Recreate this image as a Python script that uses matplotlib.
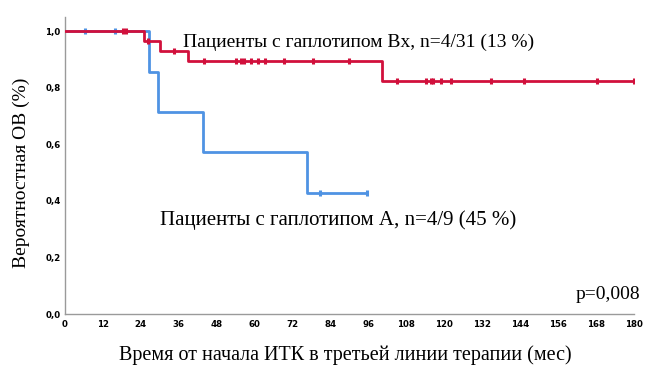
import matplotlib
matplotlib.use("Agg")
import matplotlib.pyplot as plt

# Blue group (haplotype A): step times and survival
a_times = [0, 26.5, 29.5, 43.8, 76.6, 95.5]
a_surv = [1.0, 0.857, 0.714, 0.571, 0.428, 0.428]
a_cens_t = [6.3, 15.8, 80.6, 95.5]
a_cens_s = [1.0, 1.0, 0.428, 0.428]

# Red group (haplotype Bx)
b_times = [0, 25.1, 30.1, 39.0, 100.4, 180.0]
b_surv = [1.0, 0.965, 0.930, 0.895, 0.822, 0.822]
b_cens_t = [18.4, 19.3, 26.4, 34.6, 43.9, 54.3, 55.8, 56.8, 59.0, 61.1, 63.3, 69.3, 78.6, 89.9,
            105.2, 114.1, 115.7, 116.3, 119.1, 122.0, 134.7, 145.1, 168.3, 180.0]
b_cens_s = [1.0, 1.0, 0.965, 0.930] + [0.895] * 10 + [0.822] * 10

xticks = list(range(0, 181, 12))
yticks = [0.0, 0.2, 0.4, 0.6, 0.8, 1.0]
ytick_labels = ["0,0", "0,2", "0,4", "0,6", "0,8", "1,0"]

red = "#d1103c"
blue = "#4f93e3"

fig = plt.figure(figsize=(6.47, 3.67), dpi=100)
ax = fig.add_axes([0.1, 0.1444, 0.88, 0.8093])

ax.step(a_times, a_surv, where="post", color=blue, lw=2.0, zorder=2)
ax.plot(a_cens_t, a_cens_s, ls="none", marker="|", ms=5, mew=2.2, color=blue, zorder=3)
ax.step(b_times, b_surv, where="post", color=red, lw=2.0, zorder=4)
ax.plot(b_cens_t, b_cens_s, ls="none", marker="|", ms=5, mew=2.2, color=red, zorder=5)

ax.set_xlim(0, 180)
ax.set_ylim(0, 1.05)
ax.set_xticks(xticks)
ax.set_xticklabels([str(x) for x in xticks])
ax.set_yticks(yticks)
ax.set_yticklabels(ytick_labels)
ax.tick_params(axis="x", length=0, pad=4)
ax.tick_params(axis="y", length=0, pad=3)
for lab in ax.get_xticklabels() + ax.get_yticklabels():
    lab.set_fontfamily(["Liberation Sans Narrow", "DejaVu Sans"])
    lab.set_fontweight("bold")
    lab.set_fontsize(6.2)

for s in ["top", "right"]:
    ax.spines[s].set_visible(False)
for s in ["left", "bottom"]:
    ax.spines[s].set_color("#9a9a9a")
    ax.spines[s].set_linewidth(1.0)

serif = ["Liberation Serif", "DejaVu Serif"]
ax.text(37.4, 0.961, "Пациенты с гаплотипом Bx, n=4/31 (13 %)", fontsize=14, family=serif,
        ha="left", va="center", clip_on=False)
ax.text(30.1, 0.332, "Пациенты с гаплотипом А, n=4/9 (45 %)", fontsize=15, family=serif,
        ha="left", va="center", clip_on=False)
ax.text(181.9, 0.07, "p=0,008", fontsize=14, family=serif, ha="right", va="center",
        clip_on=False)

fig.text(345 / 647, 1 - 355 / 367, "Время от начала ИТК в третьей линии терапии (мес)",
         fontsize=14.5, family=serif, ha="center", va="center")
fig.text(21 / 647, 1 - 173 / 367, "Вероятностная ОВ (%)", fontsize=14, family=serif,
         ha="center", va="center", rotation=90)

fig.savefig("out.png", dpi=100)
